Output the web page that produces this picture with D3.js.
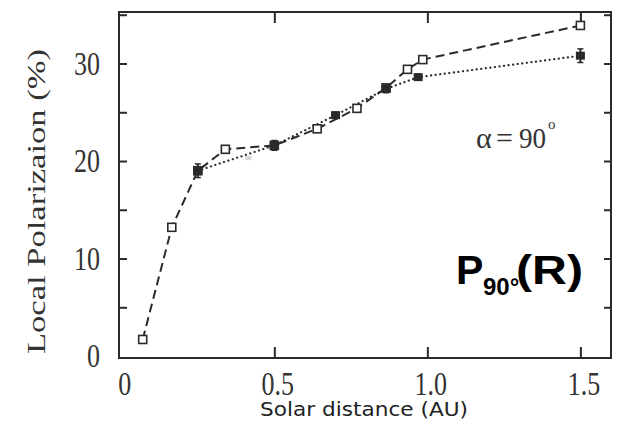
<!DOCTYPE html>
<html>
<head>
<meta charset="utf-8">
<script src="https://cdn.jsdelivr.net/npm/d3@7"></script>
<style>
  body { margin: 0; background: #fff; }
</style>
</head>
<body>
<div id="chart"></div>
<script>
// dashed series, open squares
var distOpen = [0.07, 0.165, 0.25, 0.34, 0.5, 0.64, 0.77, 0.865, 0.935, 0.985, 1.5];
var polOpen  = [1.7, 13.2, 19.0, 21.2, 21.6, 23.3, 25.4, 27.5, 29.4, 30.4, 33.9];

// dotted series, filled squares with error bars
var distFilled = [0.25, 0.5, 0.70, 0.865, 0.97, 1.5];
var polFilled  = [19.0, 21.6, 24.7, 27.4, 28.6, 30.8];
var errFilled  = [0.7, 0.5, 0.3, 0.4, 0.3, 0.7];

// faint point between 0.25 and 0.5
var distFaint = [0.415];
var polFaint  = [20.3];

var xTicks = [0, 0.5, 1.0, 1.5];
var yMajor = [0, 10, 20, 30];
var yMinor = [5, 15, 25, 35];

var margin = {top: 12, right: 8, bottom: 64, left: 119},
    width = 619 - margin.left - margin.right,
    height = 422 - margin.top - margin.bottom;

var svg = d3.select("#chart")
    .append("svg")
    .attr("width", 619)
    .attr("height", 422)
    .append("g")
    .attr("transform", "translate(" + margin.left + "," + margin.top + ")");

var x = d3.scaleLinear().domain([-0.0075, 1.6]).range([0, width]);
var y = d3.scaleLinear().domain([-0.2, 35.28]).range([height, 0]);

var ink = "#2a2a2a";
var serif = "'Liberation Serif', 'Times New Roman', serif";

// frame
svg.append("rect")
    .attr("width", width).attr("height", height)
    .attr("fill", "none").attr("stroke", ink).attr("stroke-width", 2);

// bottom axis
var xAxis = svg.append("g")
    .attr("transform", "translate(0," + height + ")")
    .call(d3.axisBottom(x).tickValues(xTicks).tickSizeInner(-11).tickSizeOuter(0)
        .tickFormat(function(d) { return d === 0 ? "0" : d3.format(".1f")(d); }));
xAxis.select(".domain").remove();
xAxis.selectAll("line").attr("stroke", ink).attr("stroke-width", 2)
    .filter(function(d) { return d === 0; }).remove();
xAxis.selectAll("text")
    .attr("font-family", serif).attr("font-size", 26).attr("fill", "#333")
    .attr("dy", 0).attr("y", 28.5).attr("dx", 3)
    .attr("transform", "scale(1,1.3)");

// top ticks
var xTop = svg.append("g")
    .call(d3.axisTop(x).tickValues(xTicks.slice(1)).tickSizeInner(-11).tickSizeOuter(0).tickFormat(""));
xTop.select(".domain").remove();
xTop.selectAll("line").attr("stroke", ink).attr("stroke-width", 2);

// left axis
var yAxis = svg.append("g")
    .call(d3.axisLeft(y).tickValues(yMajor).tickSizeInner(-8).tickSizeOuter(0).tickPadding(19));
yAxis.select(".domain").remove();
yAxis.selectAll("line").attr("stroke", ink).attr("stroke-width", 2)
    .filter(function(d) { return d === 0; }).remove();
yAxis.selectAll("text")
    .attr("font-family", serif).attr("font-size", 26).attr("fill", "#333")
    .attr("transform", "scale(1,1.3)");

var yAxisMinor = svg.append("g")
    .call(d3.axisLeft(y).tickValues(yMinor).tickSizeInner(-8).tickSizeOuter(0).tickFormat(""));
yAxisMinor.select(".domain").remove();
yAxisMinor.selectAll("line").attr("stroke", ink).attr("stroke-width", 2);

// right ticks
var yRight = svg.append("g")
    .attr("transform", "translate(" + width + ",0)")
    .call(d3.axisRight(y).tickValues(yMajor.slice(1).concat(yMinor)).tickSizeInner(-7).tickSizeOuter(0).tickFormat(""));
yRight.select(".domain").remove();
yRight.selectAll("line").attr("stroke", ink).attr("stroke-width", 2);

// axis titles
svg.append("text")
    .attr("transform", "translate(" + (45 - margin.left) + "," + (354 - margin.top) + ") rotate(-90)")
    .attr("font-family", serif).attr("font-size", 25).attr("fill", "#333")
    .attr("textLength", 305).attr("lengthAdjust", "spacingAndGlyphs")
    .text("Local Polarizaion (%)");

svg.append("text")
    .attr("x", 260 - margin.left).attr("y", 416 - margin.top)
    .attr("font-family", "'DejaVu Sans', Verdana, sans-serif").attr("font-size", 20).attr("fill", "#222")
    .attr("textLength", 208).attr("lengthAdjust", "spacingAndGlyphs")
    .text("Solar distance (AU)");

// lines
var openPts = distOpen.map(function(d, i) { return [d, polOpen[i]]; });
var filledPts = distFilled.map(function(d, i) { return [d, polFilled[i], errFilled[i]]; });

var line = d3.line()
    .x(function(d) { return x(d[0]); })
    .y(function(d) { return y(d[1]); });

svg.append("path")
    .datum(filledPts)
    .attr("fill", "none").attr("stroke", ink).attr("stroke-width", 2.2)
    .attr("stroke-dasharray", "0.1 4.5").attr("stroke-linecap", "round")
    .attr("d", line);

svg.append("path")
    .datum(openPts)
    .attr("fill", "none").attr("stroke", ink).attr("stroke-width", 2)
    .attr("stroke-dasharray", "9 5")
    .attr("d", line);

// faint point
svg.append("g").selectAll("rect")
    .data(distFaint)
    .enter().append("rect")
    .attr("x", function(d) { return x(d) - 3; })
    .attr("y", function(d, i) { return y(polFaint[i]) - 2; })
    .attr("width", 6).attr("height", 4)
    .attr("fill", "#d8d8d8");

// open squares
svg.append("g").selectAll("rect")
    .data(openPts)
    .enter().append("rect")
    .attr("x", function(d) { return x(d[0]) - 4; })
    .attr("y", function(d) { return y(d[1]) - 4; })
    .attr("width", 8).attr("height", 8)
    .attr("fill", "#fff").attr("stroke", ink).attr("stroke-width", 1.6);

// filled squares with error bars
var filled = svg.append("g").selectAll("g")
    .data(filledPts)
    .enter().append("g");

filled.append("line")
    .attr("x1", function(d) { return x(d[0]); })
    .attr("x2", function(d) { return x(d[0]); })
    .attr("y1", function(d) { return y(d[1] - d[2]); })
    .attr("y2", function(d) { return y(d[1] + d[2]); })
    .attr("stroke", ink).attr("stroke-width", 2);

filled.selectAll(".cap")
    .data(function(d) { return [[d[0], d[1] - d[2]], [d[0], d[1] + d[2]]]; })
    .enter().append("line")
    .attr("x1", function(d) { return x(d[0]) - 3; })
    .attr("x2", function(d) { return x(d[0]) + 3; })
    .attr("y1", function(d) { return y(d[1]); })
    .attr("y2", function(d) { return y(d[1]); })
    .attr("stroke", ink).attr("stroke-width", 1.5);

filled.append("rect")
    .attr("x", function(d) { return x(d[0]) - 4.5; })
    .attr("y", function(d) { return y(d[1]) - 4; })
    .attr("width", 9).attr("height", 8)
    .attr("fill", ink);

// annotations
var alpha = svg.append("text")
    .attr("font-family", serif).attr("font-size", 30).attr("fill", "#333")
    .attr("transform", "translate(" + (476 - margin.left) + "," + (148 - margin.top) + ")");
alpha.append("tspan").attr("x", 0).text("\u03b1");
alpha.append("tspan").attr("x", 20).text("=");
alpha.append("tspan").attr("x", 43).attr("textLength", 27).attr("lengthAdjust", "spacingAndGlyphs").text("90");
alpha.append("tspan").attr("x", 72).attr("dy", -19).attr("font-size", 15).text("o");

var pLabel = svg.append("text")
    .attr("font-family", "'Liberation Sans', Arial, sans-serif").attr("font-weight", "bold")
    .attr("fill", "#000")
    .attr("transform", "translate(" + (456 - margin.left) + "," + (284 - margin.top) + ")");
pLabel.append("tspan").attr("x", 0).attr("font-size", 41).text("P");
pLabel.append("tspan").attr("x", 27).attr("dy", 11).attr("font-size", 24).text("90\u00b0");
pLabel.append("tspan").attr("x", 60).attr("dy", -11).attr("font-size", 41)
    .attr("textLength", 67).attr("lengthAdjust", "spacingAndGlyphs").text("(R)");
</script>
</body>
</html>
